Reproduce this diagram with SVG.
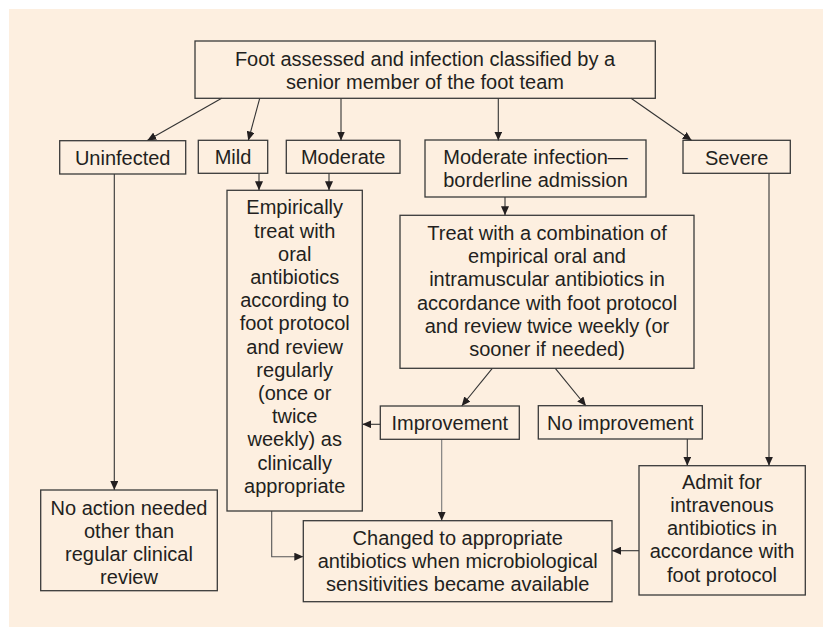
<svg xmlns="http://www.w3.org/2000/svg" width="823" height="627" viewBox="0 0 823 627">
<style>
.box{fill:none;stroke:#3a3a3a;stroke-width:1.3}
.t{font-family:"Liberation Sans",Arial,sans-serif;font-size:20px;fill:#231f20;text-anchor:middle}
.c{fill:none;stroke:#333;stroke-width:1.1;marker-end:url(#ah)}
</style>
<defs>
<marker id="ah" markerWidth="9" markerHeight="8" refX="9" refY="4" orient="auto" markerUnits="userSpaceOnUse">
<path d="M0,0 L9,4 L0,8 z" fill="#231f20"/>
</marker>
</defs>
<rect x="0" y="0" width="823" height="627" fill="#ffffff"/>
<rect x="9" y="9" width="814" height="618" fill="#fdefe0"/>

<g id="connectors">
<line class="c" x1="221.7" y1="98.3" x2="147.3" y2="140.5"/>
<line class="c" x1="259.7" y1="98.3" x2="248.3" y2="140.5"/>
<line class="c" x1="341" y1="98.3" x2="341" y2="140.5"/>
<line class="c" x1="498.3" y1="98.3" x2="498.3" y2="140.5"/>
<line class="c" x1="631" y1="98.3" x2="691.7" y2="140.5"/>
<line class="c" x1="259" y1="173.3" x2="259" y2="190.3"/>
<line class="c" x1="329" y1="173.3" x2="329" y2="190.3"/>
<line class="c" x1="114.3" y1="174" x2="114.3" y2="490"/>
<line class="c" x1="505" y1="197" x2="505" y2="215.3"/>
<line class="c" x1="769" y1="173.3" x2="769" y2="465.7"/>
<line class="c" x1="492.3" y1="368.3" x2="461.7" y2="406"/>
<line class="c" x1="555.3" y1="368.3" x2="586" y2="406"/>
<line class="c" x1="380.3" y1="424.3" x2="362.3" y2="424.3"/>
<line class="c" x1="441.7" y1="439.3" x2="441.7" y2="520.7" style="stroke:#777"/>
<line class="c" x1="687.3" y1="439" x2="687.3" y2="465.7"/>
<polyline class="c" points="271.7,511 271.7,556.7 303.3,556.7" style="stroke:#555"/>
<line class="c" x1="639" y1="550.7" x2="612" y2="550.7"/>
</g>

<g id="top">
<rect class="box" x="195" y="41" width="460.3" height="57.3"/>
<text class="t" x="425" y="65.5">Foot assessed and infection classified by a</text>
<text class="t" x="425" y="88.5">senior member of the foot team</text>
</g>

<g id="uninfected">
<rect class="box" x="59.7" y="140.7" width="126" height="33.3"/>
<text class="t" x="122.7" y="164.5">Uninfected</text>
</g>

<g id="mild">
<rect class="box" x="198.3" y="140.3" width="69.4" height="33"/>
<text class="t" x="233" y="164.3">Mild</text>
</g>

<g id="moderate">
<rect class="box" x="286.3" y="140.3" width="113.7" height="33"/>
<text class="t" x="343.2" y="164.3">Moderate</text>
</g>

<g id="moderate-borderline">
<rect class="box" x="425" y="140" width="221" height="57"/>
<text class="t" x="535.5" y="164.3">Moderate infection—</text>
<text class="t" x="535.5" y="187">borderline admission</text>
</g>

<g id="severe">
<rect class="box" x="683" y="140.3" width="107.3" height="33"/>
<text class="t" x="736.7" y="164.5">Severe</text>
</g>

<g id="empirical">
<rect class="box" x="227" y="190.3" width="135.3" height="320.7"/>
<text class="t" x="294.7" y="214.3">Empirically</text>
<text class="t" x="294.7" y="237.5">treat with</text>
<text class="t" x="294.7" y="260.7">oral</text>
<text class="t" x="294.7" y="283.9">antibiotics</text>
<text class="t" x="294.7" y="307.1">according to</text>
<text class="t" x="294.7" y="330.3">foot protocol</text>
<text class="t" x="294.7" y="353.5">and review</text>
<text class="t" x="294.7" y="376.7">regularly</text>
<text class="t" x="294.7" y="399.9">(once or</text>
<text class="t" x="294.7" y="423.1">twice</text>
<text class="t" x="294.7" y="446.3">weekly) as</text>
<text class="t" x="294.7" y="469.5">clinically</text>
<text class="t" x="294.7" y="492.7">appropriate</text>
</g>

<g id="treat">
<rect class="box" x="400" y="215.3" width="294" height="153"/>
<text class="t" x="547" y="240">Treat with a combination of</text>
<text class="t" x="547" y="263.2">empirical oral and</text>
<text class="t" x="547" y="286.4">intramuscular antibiotics in</text>
<text class="t" x="547" y="309.6">accordance with foot protocol</text>
<text class="t" x="547" y="332.8">and review twice weekly (or</text>
<text class="t" x="547" y="356">sooner if needed)</text>
</g>

<g id="improvement">
<rect class="box" x="380.3" y="406" width="139" height="33.3"/>
<text class="t" x="449.8" y="430">Improvement</text>
</g>

<g id="no-improvement">
<rect class="box" x="538.3" y="405.7" width="164" height="33.3"/>
<text class="t" x="620.3" y="429.5">No improvement</text>
</g>

<g id="no-action">
<rect class="box" x="40.7" y="490" width="176.6" height="100.7"/>
<text class="t" x="129" y="514.5">No action needed</text>
<text class="t" x="129" y="537.7">other than</text>
<text class="t" x="129" y="560.9">regular clinical</text>
<text class="t" x="129" y="584.1">review</text>
</g>

<g id="changed">
<rect class="box" x="303.3" y="520.7" width="308.7" height="81"/>
<text class="t" x="457.7" y="544.5">Changed to appropriate</text>
<text class="t" x="457.7" y="567.7">antibiotics when microbiological</text>
<text class="t" x="457.7" y="590.9">sensitivities became available</text>
</g>

<g id="admit">
<rect class="box" x="639" y="465.7" width="166.3" height="129.3"/>
<text class="t" x="722" y="488.7">Admit for</text>
<text class="t" x="722" y="511.9">intravenous</text>
<text class="t" x="722" y="535.1">antibiotics in</text>
<text class="t" x="722" y="558.3">accordance with</text>
<text class="t" x="722" y="581.5">foot protocol</text>
</g>
</svg>
